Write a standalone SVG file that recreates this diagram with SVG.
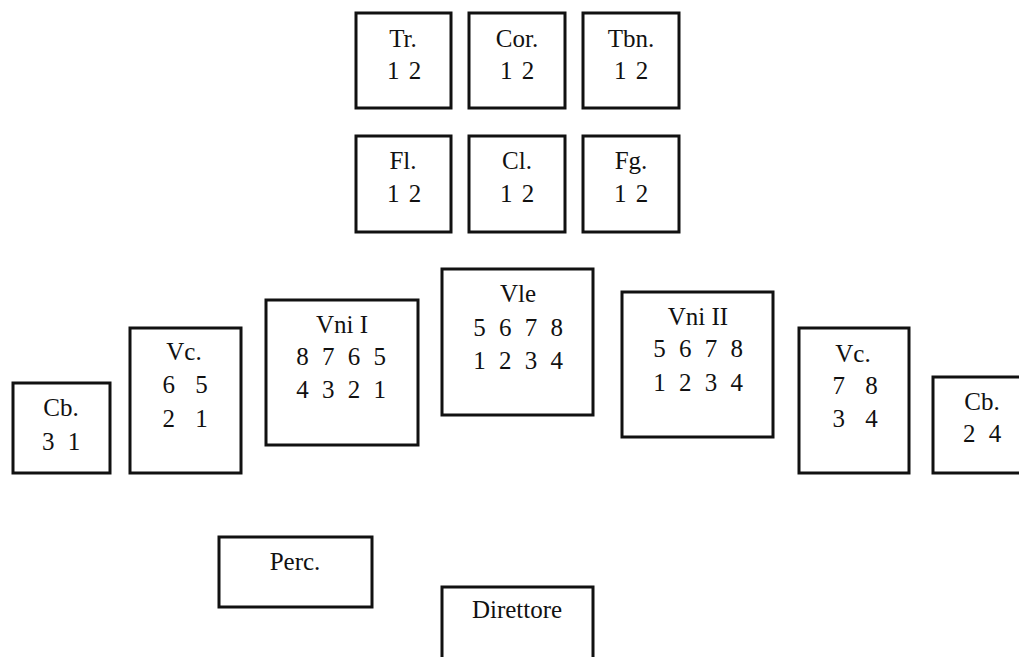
<svg xmlns="http://www.w3.org/2000/svg" width="1019" height="657" viewBox="0 0 1019 657">
<style>
  .box { fill: #ffffff; stroke: #111111; stroke-width: 3; }
  text { font-family: "Liberation Serif", "Times New Roman", serif; font-size: 25px; fill: #111111; text-anchor: middle; }
  .n1 { word-spacing: 3px; }
  .n2 { word-spacing: 7px; }
  .n3 { word-spacing: 14px; }
</style>
<rect x="0" y="0" width="1019" height="657" fill="#ffffff"/>
<g id="connectors"></g>

<g id="tr">
  <rect class="box" x="356" y="13" width="95" height="95"/>
  <text x="403" y="47">Tr.</text>
  <text class="n1" x="404" y="79">1 2</text>
</g>
<g id="cor">
  <rect class="box" x="469" y="13" width="96" height="95"/>
  <text x="517" y="47">Cor.</text>
  <text class="n1" x="517" y="79">1 2</text>
</g>
<g id="tbn">
  <rect class="box" x="583" y="13" width="96" height="95"/>
  <text x="631" y="47">Tbn.</text>
  <text class="n1" x="631" y="79">1 2</text>
</g>

<g id="fl">
  <rect class="box" x="356" y="136" width="95" height="96"/>
  <text x="403" y="169">Fl.</text>
  <text class="n1" x="404" y="202">1 2</text>
</g>
<g id="cl">
  <rect class="box" x="469" y="136" width="96" height="96"/>
  <text x="517" y="169">Cl.</text>
  <text class="n1" x="517" y="202">1 2</text>
</g>
<g id="fg">
  <rect class="box" x="583" y="136" width="96" height="96"/>
  <text x="631" y="169">Fg.</text>
  <text class="n1" x="631" y="202">1 2</text>
</g>

<g id="cb-left">
  <rect class="box" x="13" y="383" width="97" height="90"/>
  <text x="61" y="416">Cb.</text>
  <text class="n2" x="61" y="450">3 1</text>
</g>
<g id="vc-left">
  <rect class="box" x="130" y="328" width="111" height="145"/>
  <text x="184" y="360">Vc.</text>
  <text class="n3" x="185" y="393">6 5</text>
  <text class="n3" x="185" y="427">2 1</text>
</g>
<g id="vni-1">
  <rect class="box" x="266" y="300" width="152" height="145"/>
  <text x="342" y="333">Vni I</text>
  <text class="n2" x="341" y="365">8 7 6 5</text>
  <text class="n2" x="341" y="398">4 3 2 1</text>
</g>
<g id="vle">
  <rect class="box" x="442" y="269" width="151" height="146"/>
  <text x="518" y="302">Vle</text>
  <text class="n2" x="518" y="336">5 6 7 8</text>
  <text class="n2" x="518" y="369">1 2 3 4</text>
</g>
<g id="vni-2">
  <rect class="box" x="622" y="292" width="151" height="145"/>
  <text x="698" y="325">Vni II</text>
  <text class="n2" x="698" y="357">5 6 7 8</text>
  <text class="n2" x="698" y="391">1 2 3 4</text>
</g>
<g id="vc-right">
  <rect class="box" x="799" y="328" width="110" height="145"/>
  <text x="853" y="362">Vc.</text>
  <text class="n3" x="855" y="394">7 8</text>
  <text class="n3" x="855" y="427">3 4</text>
</g>
<g id="cb-right">
  <rect class="box" x="933" y="377" width="98" height="96"/>
  <text x="982" y="410">Cb.</text>
  <text class="n2" x="982" y="442">2 4</text>
</g>

<g id="perc">
  <rect class="box" x="219" y="537" width="153" height="70"/>
  <text x="295" y="570">Perc.</text>
</g>
<g id="direttore">
  <rect class="box" x="442" y="587" width="151" height="80"/>
  <text x="517" y="618">Direttore</text>
</g>
</svg>
